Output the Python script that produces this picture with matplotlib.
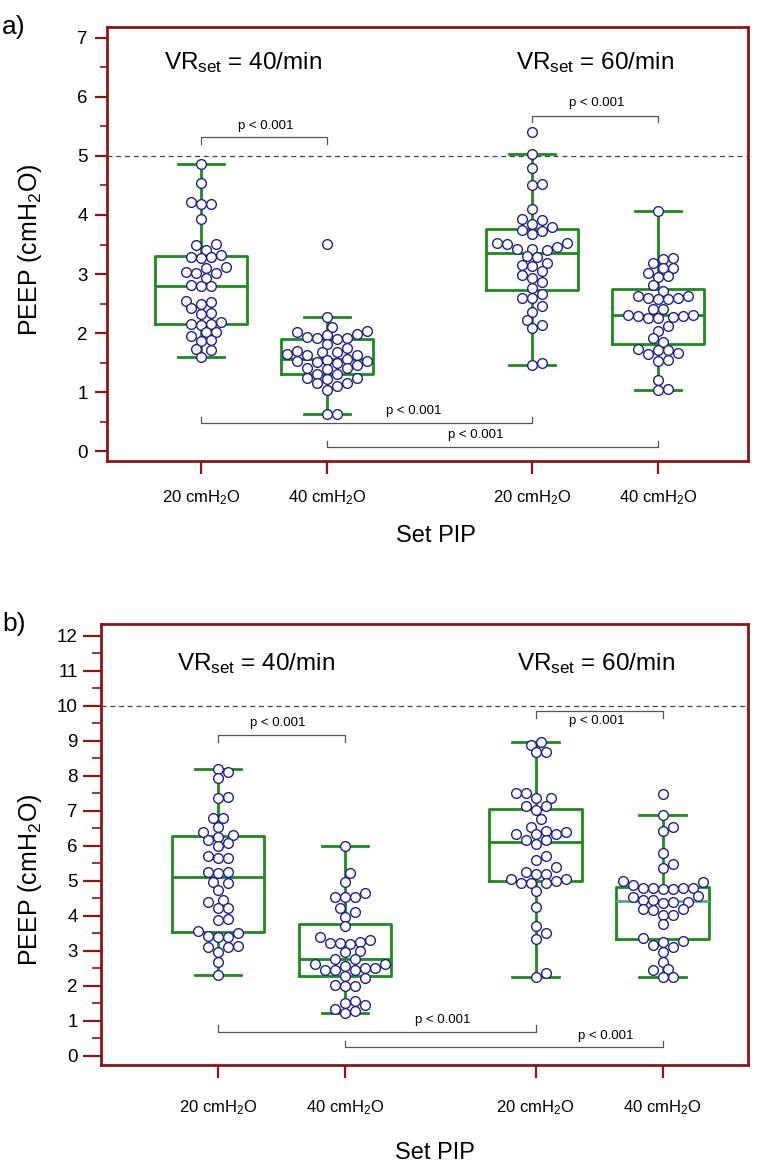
import numpy as np
import matplotlib
matplotlib.use('Agg')
import matplotlib.pyplot as plt
from matplotlib.ticker import MultipleLocator

plt.rcParams['font.family'] = ['Liberation Sans', 'DejaVu Sans']
plt.rcParams['mathtext.fontset'] = 'custom'
plt.rcParams['mathtext.rm'] = 'Liberation Sans'
plt.rcParams['mathtext.it'] = 'Liberation Sans:italic'

# ---- data (PEEP in cmH2O, 40 ventilations per group) ----
tick_labels = [r'20 cmH$_2$O', r'40 cmH$_2$O', r'20 cmH$_2$O', r'40 cmH$_2$O']

# panel a
a_vr40_pip20 = [4.86, 4.55, 4.19, 4.18, 4.22, 3.93, 3.51, 3.50, 3.41, 3.28, 3.27, 3.29, 3.32,
                3.12, 3.11, 3.02, 3.01, 3.03, 2.93, 2.80, 2.79, 2.81, 2.49, 2.53, 2.55, 2.42,
                2.33, 2.34, 2.15, 2.14, 2.16, 2.19, 2.01, 2.02, 1.95, 1.88, 1.87, 1.73, 1.72, 1.60]
a_vr40_pip40 = [3.51, 2.27, 2.11, 2.02, 2.03, 1.98, 1.97, 1.91, 1.92, 1.90, 1.93, 1.81, 1.74,
                1.70, 1.67, 1.68, 1.63, 1.64, 1.62, 1.53, 1.55, 1.56, 1.51, 1.50, 1.52, 1.45,
                1.40, 1.41, 1.39, 1.30, 1.31, 1.23, 1.24, 1.22, 1.15, 1.16, 1.10, 1.03, 0.62, 0.63]
a_vr60_pip20 = [5.40, 5.03, 4.79, 4.51, 4.52, 4.11, 3.92, 3.93, 3.85, 3.80, 3.73, 3.74, 3.68,
                3.52, 3.53, 3.51, 3.46, 3.42, 3.41, 3.43, 3.29, 3.30, 3.18, 3.14, 3.15, 3.05,
                2.98, 2.93, 2.87, 2.76, 2.66, 2.59, 2.60, 2.45, 2.36, 2.22, 2.14, 2.08, 1.49, 1.45]
a_vr60_pip40 = [4.07, 3.27, 3.26, 3.18, 3.10, 3.11, 3.01, 2.95, 2.96, 2.81, 2.72, 2.62, 2.63,
                2.59, 2.58, 2.60, 2.57, 2.40, 2.41, 2.31, 2.30, 2.29, 2.28, 2.27, 2.26, 2.25,
                2.12, 2.04, 1.91, 1.85, 1.72, 1.73, 1.71, 1.66, 1.65, 1.53, 1.54, 1.20, 1.03, 1.05]

# panel b
b_vr40_pip20 = [8.18, 8.09, 7.92, 7.40, 7.35, 6.78, 6.79, 6.53, 6.40, 6.29, 6.26, 6.16, 6.07,
                5.99, 5.69, 5.64, 5.65, 5.26, 5.23, 5.24, 4.94, 4.95, 4.73, 4.45, 4.40, 4.21,
                4.22, 3.88, 3.89, 3.55, 3.50, 3.40, 3.41, 3.39, 3.11, 3.12, 3.10, 2.97, 2.69, 2.31]
b_vr40_pip40 = [5.99, 5.21, 4.97, 4.66, 4.53, 4.54, 4.52, 4.21, 4.09, 3.97, 3.70, 3.38, 3.31,
                3.23, 3.24, 3.22, 3.19, 2.97, 2.98, 2.75, 2.76, 2.62, 2.63, 2.56, 2.50, 2.51,
                2.45, 2.46, 2.44, 2.28, 2.21, 2.00, 2.01, 1.99, 1.57, 1.50, 1.45, 1.32, 1.27, 1.21]
b_vr60_pip20 = [8.97, 8.88, 8.66, 8.67, 7.51, 7.50, 7.35, 7.36, 7.13, 7.14, 7.03, 6.75, 6.54,
                6.43, 6.40, 6.33, 6.34, 6.32, 6.16, 6.17, 6.05, 5.69, 5.59, 5.38, 5.26, 5.18,
                5.19, 5.05, 5.06, 5.00, 4.93, 4.92, 4.94, 4.71, 4.26, 3.69, 3.50, 3.33, 2.35, 2.26]
b_vr60_pip40 = [7.48, 6.88, 6.53, 6.42, 5.78, 5.47, 5.35, 4.97, 4.98, 4.88, 4.78, 4.79, 4.77,
                4.78, 4.76, 4.80, 4.54, 4.55, 4.45, 4.46, 4.40, 4.37, 4.38, 4.18, 4.19, 4.17,
                4.02, 4.03, 3.76, 3.35, 3.29, 3.25, 3.16, 3.11, 2.97, 2.69, 2.47, 2.45, 2.24, 2.25]

W, H = 758, 1165
frame_red = '#8c1616'
box_green = '#1b8c1b'
ring_blue = '#20208c'
grey = '#555555'

fig = plt.figure(figsize=(W / 100, H / 100), dpi=100)


def px_axes(left, top, right, bottom):
    return fig.add_axes([left / W, 1 - bottom / H, (right - left) / W, (bottom - top) / H])


def bracket(ax, x1, x2, y, tip, tx, ty):
    ax.plot([x1, x1, x2, x2], [tip, y, y, tip], color=grey, lw=0.9, zorder=2)
    ax.text(tx, ty, 'p < 0.001', ha='center', va='center', fontsize=9.5)


def swarm_offsets(ax, values, step_px=5.0, diam_px=9.0):
    # dot-density layout: columns every step_px, rings kept about one diameter apart
    p0 = ax.transData.transform((0, 0))
    p1 = ax.transData.transform((1, 1))
    sx, sy = p1 - p0
    vals = np.asarray(values, dtype=float)
    offs = np.zeros(len(vals))
    placed = []
    cols = [0]
    for k in range(1, 12):
        cols += [k, -k]
    for i in np.argsort(vals):
        ypx = vals[i] * sy
        for k in cols:
            xo = k * step_px
            if all((xo - px) ** 2 + (ypx - py) ** 2 >= diam_px ** 2 for px, py in placed):
                break
        placed.append((xo, ypx))
        offs[i] = xo / sx
    return offs


def draw_panel(ax, groups, pos, xlim, ylim, ref, major_len, minor_len, xpad, ypad):
    ax.set_xlim(*xlim)
    ax.set_ylim(*ylim)
    ax.axhline(ref, color='#444444', lw=0.9, ls=(0, (4, 3)), zorder=1)
    bp = ax.boxplot(groups, positions=pos, widths=0.73, whis=1.5, showfliers=False,
                    manage_ticks=False,
                    boxprops=dict(color=box_green, lw=2),
                    whiskerprops=dict(color=box_green, lw=2),
                    capprops=dict(color=box_green, lw=2),
                    medianprops=dict(color=box_green, lw=2))
    for p, g in zip(pos, groups):
        ax.scatter(p + swarm_offsets(ax, g), g, s=7.0 ** 2, facecolor='white',
                   edgecolor=ring_blue, linewidth=1.0, zorder=3)
    ax.set_xlim(*xlim)
    ax.set_ylim(*ylim)
    for s in ax.spines.values():
        s.set_color(frame_red)
        s.set_linewidth(2)
    ax.set_xticks(pos)
    ax.set_xticklabels(tick_labels, fontsize=12)
    ax.yaxis.set_major_locator(MultipleLocator(1))
    ax.yaxis.set_minor_locator(MultipleLocator(0.5))
    ax.tick_params(axis='x', which='major', direction='out', length=9, width=1.6,
                   color=frame_red, pad=xpad)
    ax.tick_params(axis='y', which='major', direction='out', length=major_len, width=1.6,
                   color=frame_red, labelsize=13.5, pad=ypad)
    ax.tick_params(axis='y', which='minor', direction='out', length=minor_len, width=1.2,
                   color=frame_red)
    return bp


# ---- panel a ----
pos_a = [1, 2, 3.63, 4.63]
ax_a = px_axes(107, 27, 748, 461)
draw_panel(ax_a, [a_vr40_pip20, a_vr40_pip40, a_vr60_pip20, a_vr60_pip40], pos_a,
           (0.254, 5.341), (-0.169, 7.186), 5, 9, 5, 11, 5)
ax_a.text(1.33, 6.58, r'VR$_{\mathrm{set}}$ = 40/min', ha='center', va='center', fontsize=17.5)
ax_a.text(4.13, 6.58, r'VR$_{\mathrm{set}}$ = 60/min', ha='center', va='center', fontsize=17.5)
bracket(ax_a, 1, 2, 5.33, 5.21, 1.51, 5.50)
bracket(ax_a, 3.63, 4.63, 5.67, 5.58, 4.14, 5.90)
bracket(ax_a, 1, 3.63, 0.47, 0.58, 2.69, 0.68)
bracket(ax_a, 2, 4.63, 0.07, 0.17, 3.18, 0.27)

# ---- panel b ----
pos_b = [1, 2, 3.5, 4.5]
ax_b = px_axes(101, 624, 748, 1065)
bp_b = draw_panel(ax_b, [b_vr40_pip20, b_vr40_pip40, b_vr60_pip20, b_vr60_pip40], pos_b,
                  (0.079, 5.173), (-0.266, 12.33), 10, 13, 6.5, 15, 3.6)
bp_b['medians'][3].set_color('#5aa888')
ax_b.text(1.30, 11.2, r'VR$_{\mathrm{set}}$ = 40/min', ha='center', va='center', fontsize=17.5)
ax_b.text(3.98, 11.2, r'VR$_{\mathrm{set}}$ = 60/min', ha='center', va='center', fontsize=17.5)
bracket(ax_b, 1, 2, 9.16, 8.97, 1.47, 9.50)
bracket(ax_b, 3.5, 4.5, 9.84, 9.64, 3.98, 9.55)
bracket(ax_b, 1, 3.5, 0.69, 0.88, 2.77, 1.02)
bracket(ax_b, 2, 4.5, 0.26, 0.43, 4.05, 0.56)

# ---- figure-level labels ----
fig.text(2 / W, 1 - 27 / H, 'a)', ha='left', va='center', fontsize=19)
fig.text(2 / W, 1 - 624 / H, 'b)', ha='left', va='center', fontsize=19)
fig.text(30 / W, 1 - 250 / H, r'PEEP (cmH$_2$O)', rotation=90, ha='center', va='center', fontsize=18)
fig.text(30 / W, 1 - 880 / H, r'PEEP (cmH$_2$O)', rotation=90, ha='center', va='center', fontsize=18)
fig.text(436 / W, 1 - 536 / H, 'Set PIP', ha='center', va='center', fontsize=17)
fig.text(435 / W, 1 - 1153 / H, 'Set PIP', ha='center', va='center', fontsize=17)

fig.savefig('out.png', dpi=100)
